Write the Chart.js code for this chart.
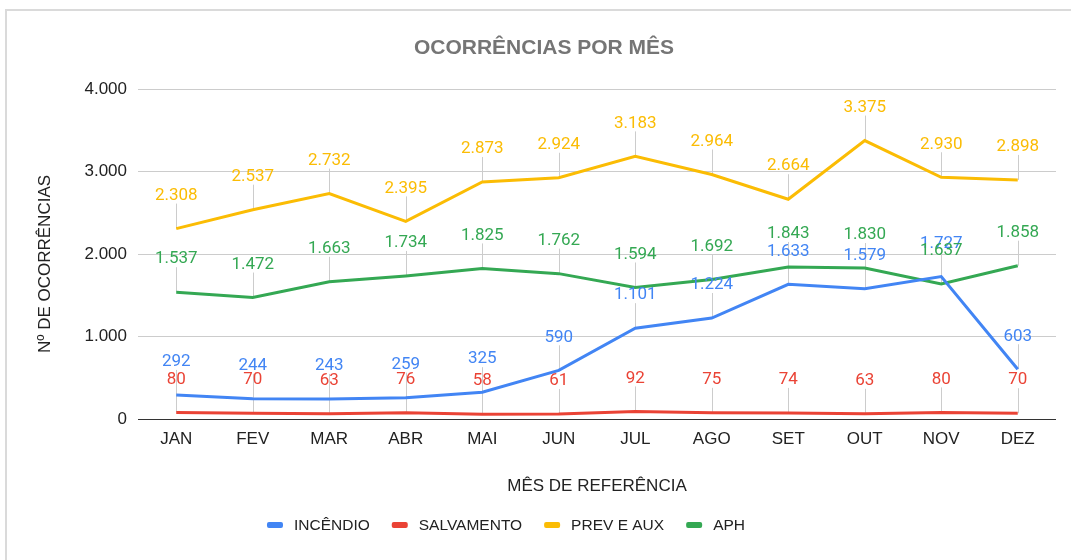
<!DOCTYPE html>
<html lang="pt-BR">
<head>
<meta charset="utf-8">
<title>Ocorrências por mês</title>
<script src="https://cdn.jsdelivr.net/npm/chart.js@4.4.1/dist/chart.umd.min.js"></script>
<style>
    html, body { margin: 0; padding: 0; background: #fff; overflow: hidden; }
    .frame { position: absolute; left: 5px; top: 9px; width: 1100px; height: 600px;
             border-left: 2px solid #dadada; border-top: 2px solid #dadada; }
    #chart { position: absolute; left: 0; top: 0; }
</style>
</head>
<body>
<div class="frame"></div>
<canvas id="chart" width="1071" height="560"></canvas>
<script>
// ============================================================
// Data
// ============================================================
const months = ['JAN', 'FEV', 'MAR', 'ABR', 'MAI', 'JUN', 'JUL', 'AGO', 'SET', 'OUT', 'NOV', 'DEZ'];
const seriesNames = ['INCÊNDIO', 'SALVAMENTO', 'PREV E AUX', 'APH'];
const seriesColors = ['#4285F4', '#EA4335', '#FBBC04', '#34A853'];

const incendio   = [292, 244, 243, 259, 325, 590, 1101, 1224, 1633, 1579, 1727, 603];
const salvamento = [80, 70, 63, 76, 58, 61, 92, 75, 74, 63, 80, 70];
const prevAux    = [2308, 2537, 2732, 2395, 2873, 2924, 3183, 2964, 2664, 3375, 2930, 2898];
const aph        = [1537, 1472, 1663, 1734, 1825, 1762, 1594, 1692, 1843, 1830, 1637, 1858];

const yTicks = [0, 1000, 2000, 3000, 4000];

const chartTitle = 'OCORRÊNCIAS POR MÊS';
const xTitle = 'MÊS DE REFERÊNCIA';
const yTitle = 'Nº DE OCORRÊNCIAS';

const FONT = '"Liberation Sans", Arial, sans-serif';
const fmt = v => String(v).replace(/\B(?=(\d{3})+(?!\d))/g, '.');

// ============================================================
// Plugin: leader lines, value labels, titles and legend
// ============================================================
const decorations = {
    id: 'decorations',
    beforeDatasetsDraw(chart) {
        const ctx = chart.ctx;
        ctx.save();
        ctx.strokeStyle = '#cccccc';
        ctx.lineWidth = 1;
        chart.data.datasets.forEach((ds, i) => {
            chart.getDatasetMeta(i).data.forEach(pt => {
                const x = Math.round(pt.x) + 0.5;
                ctx.beginPath();
                ctx.moveTo(x, pt.y);
                ctx.lineTo(x, pt.y - 25);
                ctx.stroke();
            });
        });
        ctx.restore();
    },
    afterDatasetsDraw(chart) {
        const ctx = chart.ctx;
        ctx.save();
        ctx.font = '17px Roboto, sans-serif';
        ctx.textAlign = 'center';
        ctx.textBaseline = 'middle';
        chart.data.datasets.forEach((ds, i) => {
            ctx.fillStyle = ds.borderColor;
            chart.getDatasetMeta(i).data.forEach((pt, j) => {
                ctx.fillText(fmt(ds.data[j]), pt.x, pt.y - 33);
            });
        });
        ctx.restore();
    },
    afterDraw(chart) {
        const ctx = chart.ctx;
        const area = chart.chartArea;
        ctx.save();

        // chart title
        ctx.font = 'bold 21px ' + FONT;
        ctx.fillStyle = '#757575';
        ctx.textAlign = 'center';
        ctx.textBaseline = 'middle';
        ctx.fillText(chartTitle, 544, 48);

        // axis titles
        ctx.font = '17px ' + FONT;
        ctx.fillStyle = '#222';
        ctx.fillText(xTitle, (area.left + area.right) / 2, 486);
        ctx.save();
        ctx.translate(45, 264);
        ctx.rotate(-Math.PI / 2);
        ctx.fillText(yTitle, 0, 0);
        ctx.restore();

        // legend
        ctx.font = '15.5px ' + FONT;
        ctx.textAlign = 'left';
        const boxW = 16, gapText = 11, gapItem = 22;
        const widths = chart.data.datasets.map(ds => boxW + gapText + ctx.measureText(ds.label).width);
        const total = widths.reduce((s, w) => s + w, 0) + gapItem * (widths.length - 1);
        let x = 506 - total / 2;
        const y = 525;
        chart.data.datasets.forEach((ds, i) => {
            ctx.fillStyle = ds.borderColor;
            ctx.beginPath();
            ctx.roundRect(x, y - 3, boxW, 6, 2);
            ctx.fill();
            ctx.fillStyle = '#222';
            ctx.fillText(ds.label, x + boxW + gapText, y + 1);
            x += widths[i] + gapItem;
        });

        ctx.restore();
    }
};

// ============================================================
// Chart
// ============================================================
const seriesData = [incendio, salvamento, prevAux, aph];

new Chart(document.getElementById('chart'), {
    type: 'line',
    data: {
        labels: months,
        datasets: seriesData.map((d, i) => ({
            label: seriesNames[i],
            data: d,
            borderColor: seriesColors[i],
            backgroundColor: seriesColors[i],
            borderWidth: 3,
            pointRadius: 0,
            tension: 0,
            fill: false,
        }))
    },
    options: {
        responsive: false,
        animation: false,
        layout: { padding: { top: 89, right: 15, left: 0, bottom: 0 } },
        plugins: {
            legend: { display: false },
            title: { display: false },
            tooltip: { enabled: false },
        },
        scales: {
            x: {
                offset: true,
                grid: { display: false, drawTicks: false },
                border: { display: false },
                ticks: { padding: 10, color: '#222', font: { family: FONT, size: 17 }, maxRotation: 0 },
                afterFit: s => { s.height = 141; },
            },
            y: {
                min: 0,
                max: 4000,
                afterBuildTicks: s => { s.ticks = yTicks.map(v => ({ value: v })); },
                grid: {
                    drawTicks: false,
                    color: c => (c.tick && c.tick.value === 0 ? '#333' : '#cccccc'),
                },
                border: { display: false },
                ticks: { padding: 11, color: '#222', font: { family: FONT, size: 17 }, callback: v => fmt(v) },
                afterFit: s => { s.width = 138; },
            }
        }
    },
    plugins: [decorations]
});
</script>
</body>
</html>
